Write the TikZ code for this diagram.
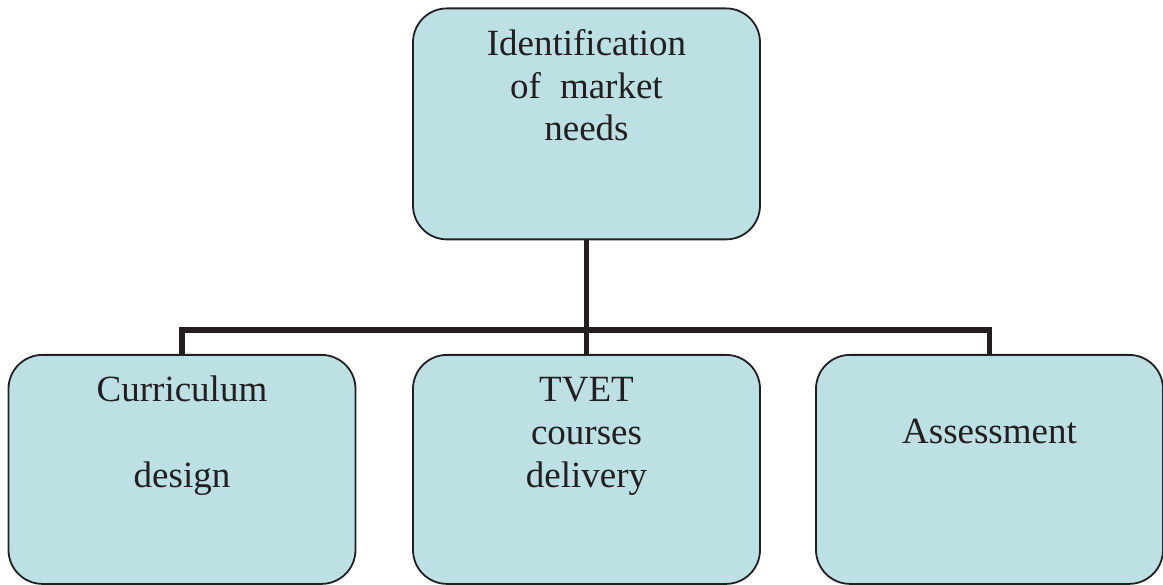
\documentclass[tikz,border=0pt]{standalone}
\usepackage{fontspec}
\setmainfont{Liberation Serif}
\definecolor{boxfill}{RGB}{189,224,228}
\definecolor{ink}{RGB}{35,31,32}
\tikzset{
  stagebox/.style={draw=ink, line width=1.8pt, fill=boxfill, rounded corners=34pt,
    anchor=north, inner sep=0pt, minimum width=347pt,
    text width=320pt, align=center, text height=47pt, text depth=182pt,
    font=\fontsize{37}{42.8}\selectfont, text=ink},
  link/.style={draw=ink, line width=5.5pt}
}
\begin{document}
\begin{tikzpicture}[x=1pt,y=-1pt]
\useasboundingbox (0,0) rectangle (1163,585);
\node[stagebox, text depth=184pt] (top) at (586.5,7.5) {Identification\\of\hspace{19pt}market\\needs};
\node[stagebox] (left) at (182,354) {Curriculum\\[42.8pt]design};
\node[stagebox] (mid) at (586.5,354) {TVET\\courses\\delivery};
\node[stagebox, text height=89pt, text depth=140pt] (right) at (989.5,354) {Assessment};
\coordinate (j) at (586.5,330);
\draw[link] (top.south) -- (mid.north);
\draw[link] (left.north) -- (left.north |- j) -- (right.north |- j) -- (right.north);
\end{tikzpicture}
\end{document}
